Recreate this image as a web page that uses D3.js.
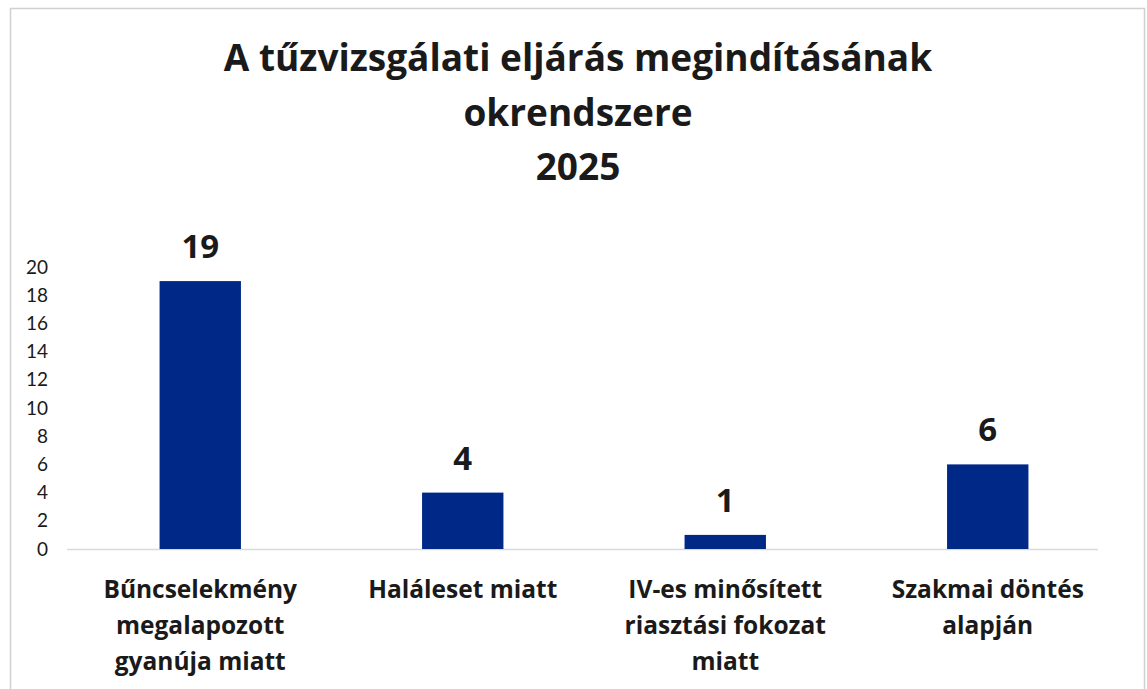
<!DOCTYPE html>
<html>
<head>
<meta charset="utf-8">
<script src="https://cdn.jsdelivr.net/npm/d3@7"></script>
<style>
  body { margin: 0; background: #fff; }
  svg { display: block; }
</style>
</head>
<body>
<div id="chart"></div>
<script>
// data
const categories = [
  ["Bűncselekmény", "megalapozott", "gyanúja miatt"],
  ["Haláleset miatt"],
  ["IV-es minősített", "riasztási fokozat", "miatt"],
  ["Szakmai döntés", "alapján"]
];
const values = [19, 4, 1, 6];
const yTicks = [0, 2, 4, 6, 8, 10, 12, 14, 16, 18, 20];
const titleLines = ["A tűzvizsgálati eljárás megindításának", "okrendszere", "2025"];

const width = 1147;
const height = 689;
const baseY = 549;

const svg = d3.select("#chart")
  .append("svg")
  .attr("width", width)
  .attr("height", height);

// chart border (bottom runs off the picture)
svg.append("rect")
  .attr("x", 10.5)
  .attr("y", 8.5)
  .attr("width", 1134)
  .attr("height", 700)
  .attr("fill", "none")
  .attr("stroke", "#d0d0d0")
  .attr("stroke-width", 1.5);

// title
svg.append("text")
  .attr("text-anchor", "middle")
  .attr("font-family", "'Open Sans', sans-serif")
  .attr("font-weight", "bold")
  .attr("font-size", 37)
  .attr("fill", "#1a1a1a")
  .selectAll("tspan")
  .data(titleLines)
  .join("tspan")
  .attr("x", 578)
  .attr("y", (d, i) => 71 + i * 54.5)
  .text(d => d);

// scales
const idx = values.map((d, i) => i);
const xScale = d3.scaleBand()
  .domain(idx)
  .range([69, 1119])
  .paddingInner(0.69)
  .paddingOuter(0.345);

const yScale = d3.scaleLinear()
  .domain([0, 20])
  .range([baseY, 267]);

// y axis, labels only
const yAxis = svg.append("g")
  .attr("transform", "translate(48,0)")
  .call(d3.axisLeft(yScale).tickValues(yTicks).tickSize(0).tickPadding(0));
yAxis.select(".domain").remove();
yAxis.selectAll("text")
  .attr("font-family", "Lato, sans-serif")
  .attr("font-size", 19)
  .attr("fill", "#1a1a1a");

// baseline
svg.append("line")
  .attr("x1", 67)
  .attr("x2", 1098)
  .attr("y1", baseY + 0.5)
  .attr("y2", baseY + 0.5)
  .attr("stroke", "#d9d9d9")
  .attr("stroke-width", 1.5);

// bars
svg.selectAll(".bar")
  .data(values)
  .join("rect")
  .attr("class", "bar")
  .attr("x", (d, i) => xScale(i))
  .attr("y", d => yScale(d))
  .attr("width", xScale.bandwidth())
  .attr("height", d => baseY - yScale(d))
  .attr("fill", "#002887");

// value labels
svg.selectAll(".bar-label")
  .data(values)
  .join("text")
  .attr("class", "bar-label")
  .attr("x", (d, i) => xScale(i) + xScale.bandwidth() / 2)
  .attr("y", d => yScale(d) - 23)
  .attr("text-anchor", "middle")
  .attr("font-family", "'Open Sans', sans-serif")
  .attr("font-weight", "bold")
  .attr("font-size", 33)
  .attr("fill", "#1a1a1a")
  .text(d => d);

// category labels
svg.selectAll(".cat-label")
  .data(categories)
  .join("text")
  .attr("class", "cat-label")
  .attr("text-anchor", "middle")
  .attr("font-family", "'Open Sans', sans-serif")
  .attr("font-weight", "bold")
  .attr("font-size", 24.5)
  .attr("fill", "#1a1a1a")
  .each(function(lines, i) {
    d3.select(this).selectAll("tspan")
      .data(lines)
      .join("tspan")
      .attr("x", xScale(i) + xScale.bandwidth() / 2)
      .attr("y", (d, j) => 598 + j * 36)
      .text(d => d);
  });
</script>
</body>
</html>
